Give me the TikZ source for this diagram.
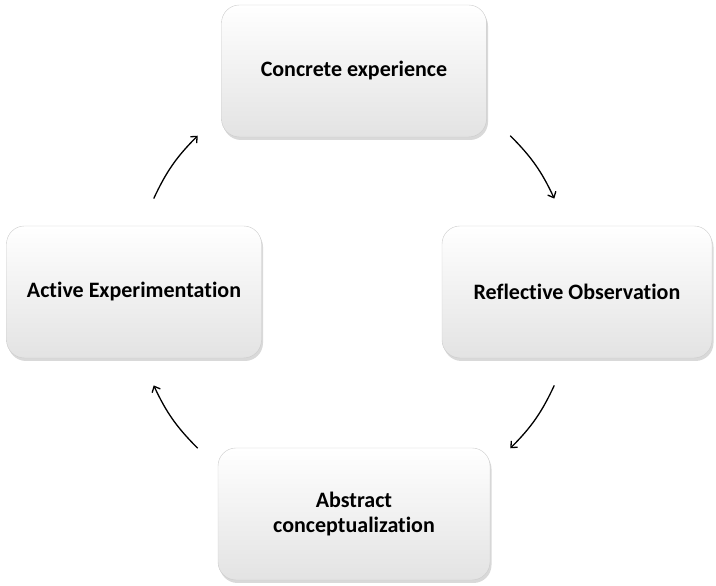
\documentclass[tikz,border=0pt]{standalone}
\usepackage{fontspec}
\setmainfont{Carlito}[Ligatures=NoCommon]
\usetikzlibrary{shadows,arrows.meta}
\tikzset{
  stage/.style={rounded corners=18pt, draw=gray!40, top color=white, bottom color=gray!22,
    minimum width=265pt, minimum height=132pt, align=center,
    font=\bfseries\fontsize{22}{25}\selectfont,
    drop shadow={opacity=0.3, shadow xshift=1.5pt, shadow yshift=-3pt}},
  turn/.style={-{Straight Barb[length=5pt,width=9pt]}, line width=1.3pt, bend left=10}
}
\begin{document}
\begin{tikzpicture}[x=1pt,y=1pt]
\useasboundingbox (0,0) rectangle (716,586);
\coordinate (c) at (354,294);
\node[stage] (ce) at (354,515) {Concrete experience};
\node[stage,minimum width=270pt] (ro) at (577,294) {Reflective Observation};
\node[stage,minimum width=272pt] (ac) at (354,72) {Abstract\\conceptualization};
\node[stage,minimum width=255pt] (ae) at (134,294) {Active Experimentation};
\path (c) ++(45:221) coordinate (a1);
\path (c) ++(25:221) coordinate (a2);
\path (c) ++(-25:221) coordinate (b1);
\path (c) ++(-45:221) coordinate (b2);
\path (c) ++(-135:221) coordinate (d1);
\path (c) ++(-155:221) coordinate (d2);
\path (c) ++(155:221) coordinate (e1);
\path (c) ++(135:221) coordinate (e2);
\draw[turn] (a1) to (a2);
\draw[turn] (b1) to (b2);
\draw[turn] (d1) to (d2);
\draw[turn] (e1) to (e2);
\end{tikzpicture}
\end{document}
